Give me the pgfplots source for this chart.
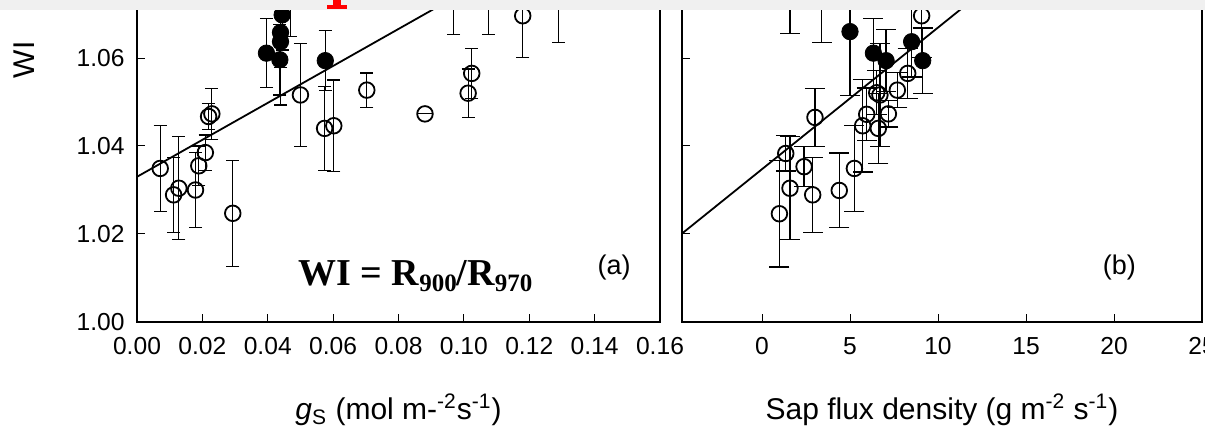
\documentclass[border=0pt]{standalone}
\usepackage{fontspec}
\setmainfont{Liberation Sans}
\newfontfamily\timesf{Liberation Serif}
\usepackage{pgfplots}
\usepackage{pgfplotstable}
\pgfplotsset{compat=1.18}
\definecolor{band}{RGB}{240,240,240}

\pgfplotstableread{
x y ey
0.0071 1.0349 0.0097
0.0112 1.0289 0.0085
0.0128 1.0304 0.0117
0.0179 1.0300 0.0085
0.0189 1.0355 0.0045
0.0209 1.0385 0.0040
0.0219 1.0467 0.0030
0.0229 1.0473 0.0058
0.0293 1.0247 0.0120
0.0500 1.0516 0.0117
0.0574 1.0440 0.0096
0.0602 1.0446 0.0104
0.0703 1.0527 0.0039
0.0881 1.0473 0.0000
0.1013 1.0520 0.0055
0.1024 1.0565 0.0057
0.1180 1.0696 0.0095
0.0968 1.0750 0.0096
0.1075 1.0750 0.0096
0.1289 1.0730 0.0095
}\leftopen

\pgfplotstableread{
x y ey
0.0396 1.0611 0.0078
0.0437 1.0596 0.0080
0.0439 1.0637 0.0144
0.0439 1.0658 0.0080
0.0444 1.0698 0.0080
0.0469 1.0740 0.0092
0.0576 1.0594 0.0068
}\leftfilled

\pgfplotstableread{
x y ey
0.99 1.0246 0.0121
1.35 1.0383 0.0040
1.59 1.0304 0.0117
2.39 1.0353 0.0045
2.88 1.0289 0.0085
3.01 1.0465 0.0066
4.39 1.0299 0.0085
5.25 1.0349 0.0097
5.72 1.0446 0.0105
5.95 1.0472 0.0060
6.52 1.0521 0.0050
6.61 1.0440 0.0080
6.70 1.0516 0.0117
7.18 1.0473 0.0030
7.69 1.0527 0.0040
8.28 1.0565 0.0057
9.07 1.0696 0.0095
1.59 1.0750 0.0095
3.39 1.0730 0.0095
}\rightopen

\pgfplotstableread{
x y ey
5.00 1.0660 0.0146
6.33 1.0611 0.0078
7.05 1.0594 0.0070
8.50 1.0637 0.0080
9.13 1.0594 0.0074
}\rightfilled

\pgfplotsset{
  panel/.style={
    scale only axis,
    height=176pt,
    ymin=1.0, ymax=1.08,
    ytick={1.00,1.02,1.04,1.06},
    tick align=inside,
    xtick pos=bottom, ytick pos=left,
    major tick length=4pt,
    tick style={black, line width=0.5pt},
    axis line style={black, line width=0.8pt},
    ticklabel style={font=\fontsize{12.3}{14}\selectfont},
    yticklabel style={inner sep=0pt, anchor=east, xshift=-6pt},
    xticklabel style={inner sep=0pt, anchor=north, yshift=-7.5pt},
    every axis x label/.style={at={(rel axis cs:0.5,0)}, anchor=center, yshift=-44pt, font=\fontsize{15}{18}\selectfont},
  },
  openpts/.style={only marks, mark=o, mark size=3.9pt, mark options={black, fill=white, line width=0.9pt},
    error bars/y dir=both, error bars/y explicit,
    error bars/error bar style={black, line width=0.6pt},
    error bars/error mark options={black, rotate=90, mark size=#1, line width=0.6pt}},
  openpts/.default=3.5pt,
  fillpts/.style={only marks, mark=*, mark size=4.1pt, mark options={black, fill=black},
    error bars/y dir=both, error bars/y explicit,
    error bars/error bar style={black, line width=0.6pt},
    error bars/error mark options={black, rotate=90, mark size=#1, line width=0.6pt}},
  fillpts/.default=3.5pt,
}

\begin{document}
\begin{tikzpicture}
\useasboundingbox (0,0) rectangle (602.5pt,221pt);
\clip (0,0) rectangle (602.5pt,221pt);

% left panel
\begin{axis}[panel, at={(68.5pt,60pt)}, anchor=south west, width=261.5pt,
  xmin=0, xmax=0.16,
  xtick={0,0.02,0.04,0.06,0.08,0.10,0.12,0.14,0.16},
  xticklabels={0.00,0.02,0.04,0.06,0.08,0.10,0.12,0.14,0.16},
  yticklabels={1.00,1.02,1.04,1.06},
  xlabel={{\itshape g}\textsubscript{S} (mol m-\textsuperscript{-2}s\textsuperscript{-1})},
]
\addplot[black, line width=0.9pt] coordinates {(0,1.0330) (0.16,1.1002)};
\addplot[openpts=3.3pt] table[x=x, y=y, y error=ey] {\leftopen};
\addplot[fillpts=3.3pt] table[x=x, y=y, y error=ey] {\leftfilled};
\node[anchor=base west, inner sep=0pt, font=\timesf\bfseries\fontsize{19}{22}\selectfont] at (axis cs:0.0493,1.0084)
  {WI = R\raisebox{-3.3pt}{\fontsize{12.5}{13}\selectfont 900}/R\raisebox{-3.3pt}{\fontsize{12.5}{13}\selectfont 970}};
\node[anchor=base, inner sep=0pt, font=\fontsize{13.5}{16}\selectfont] at (axis cs:0.1460,1.0109) {(a)};
\end{axis}

% right panel
\begin{axis}[panel, at={(341pt,60pt)}, anchor=south west, width=260pt,
  xmin=-4.545, xmax=25,
  xtick={0,5,10,15,20,25},
  xticklabels={0,5,10,15,20,25},
  yticklabels={},
  axis line style={black, line width=1pt},
  xlabel={Sap flux density (g m\textsuperscript{-2} s\textsuperscript{-1})},
]
\addplot[black, line width=0.9pt] coordinates {(-4.545,1.0201) (25,1.1152)};
\addplot[openpts=5pt] table[x=x, y=y, y error=ey] {\rightopen};
\addplot[fillpts=5pt] table[x=x, y=y, y error=ey] {\rightfilled};
\node[anchor=base, inner sep=0pt, font=\fontsize{13.5}{16}\selectfont] at (axis cs:20.3,1.0109) {(b)};
\end{axis}

% y label
\node[rotate=90, font=\fontsize{15}{18}\selectfont, inner sep=0pt] at (12pt,191pt) {WI};

% top band of the screenshot
\fill[band] (0,216pt) rectangle (602.5pt,221pt);
\fill[red] (163.5pt,216.5pt) rectangle (173.5pt,218.5pt);
\fill[red] (166.5pt,218pt) rectangle (170.5pt,221pt);
\end{tikzpicture}
\end{document}
